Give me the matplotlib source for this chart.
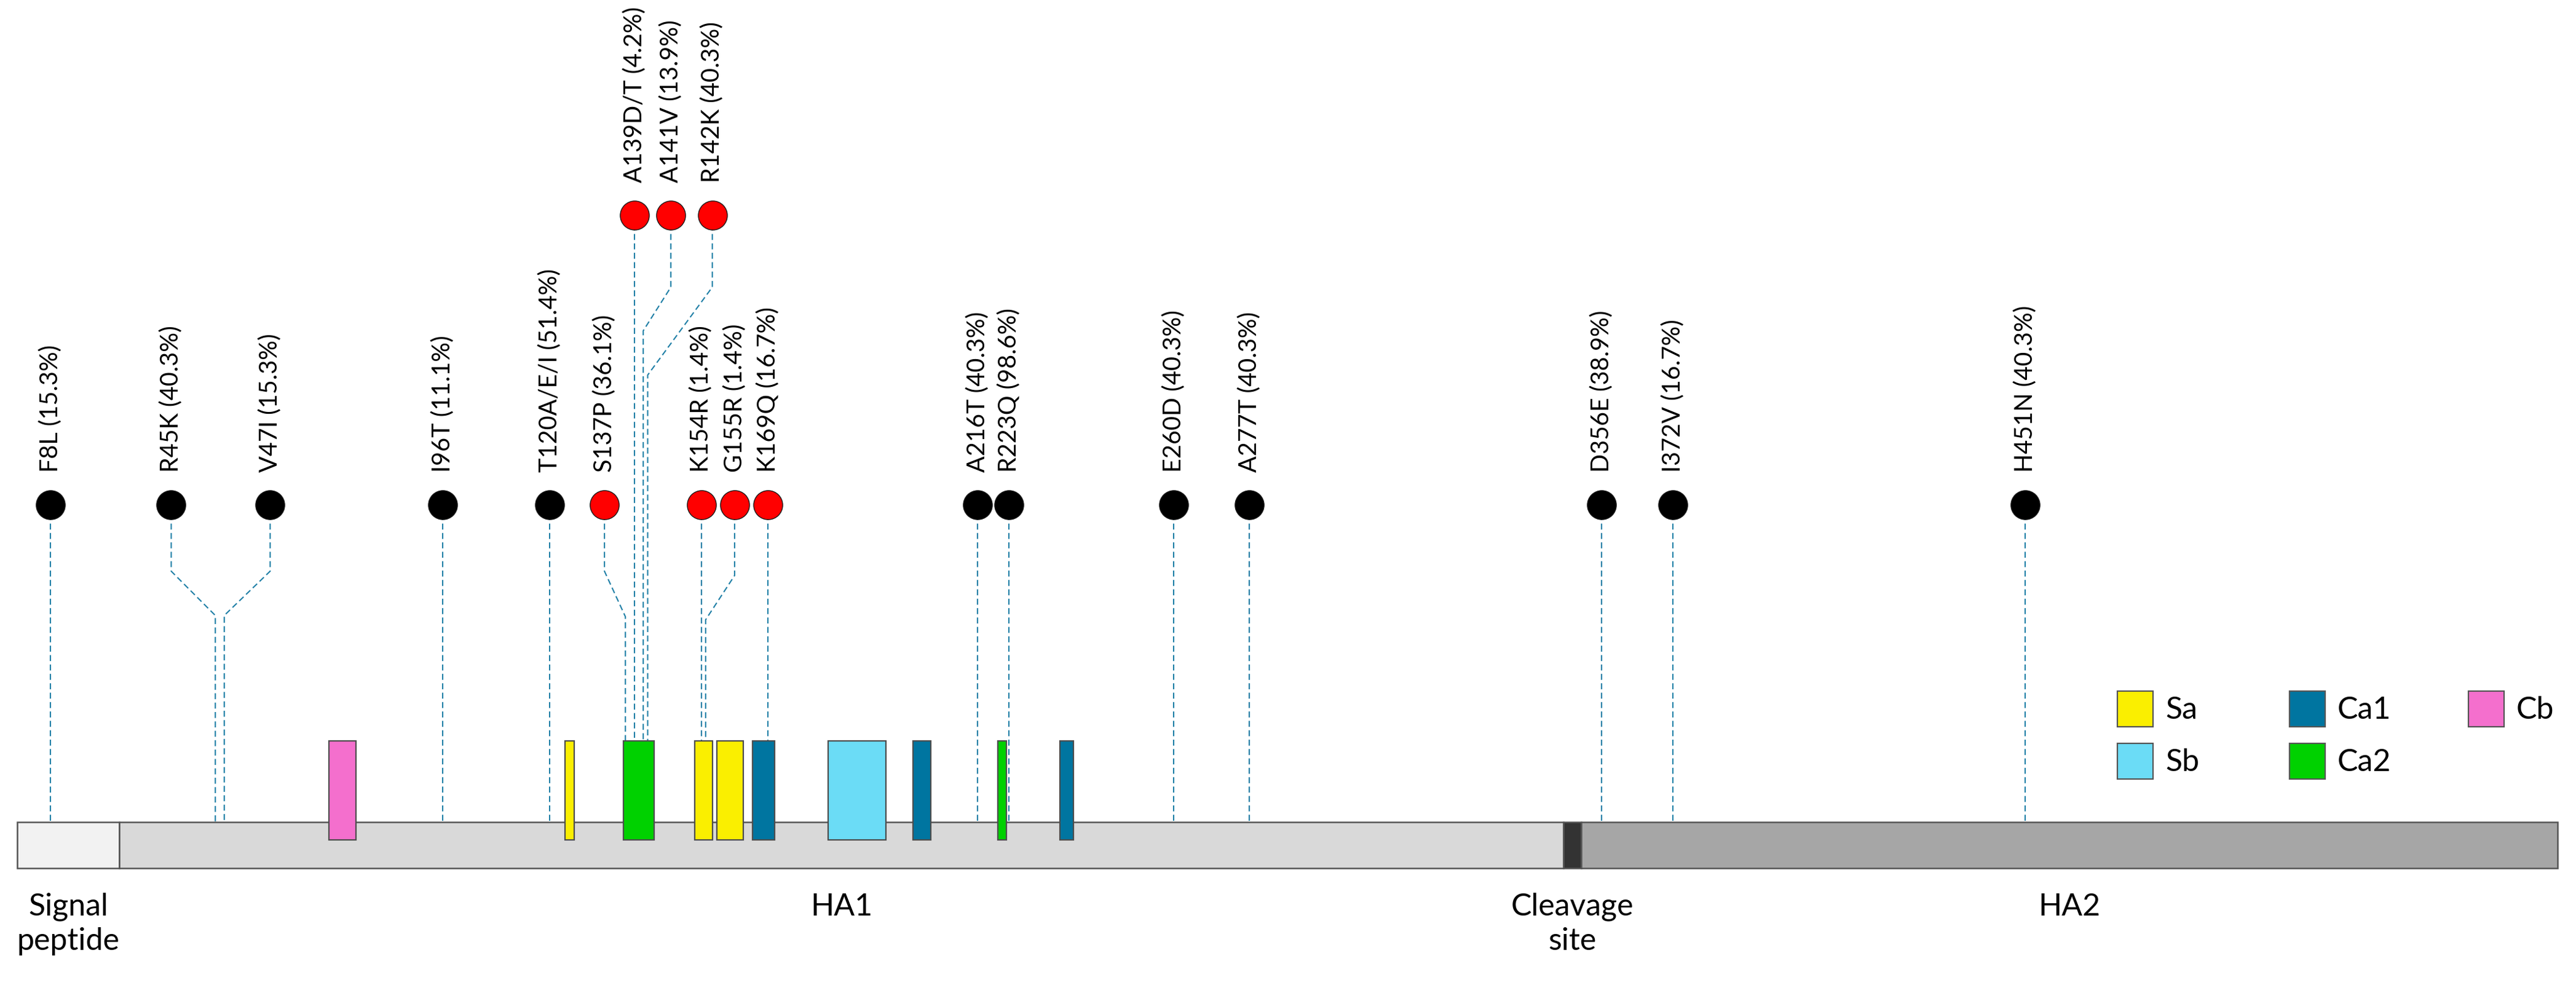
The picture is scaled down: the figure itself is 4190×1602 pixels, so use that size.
import matplotlib
matplotlib.use("Agg")
import matplotlib.pyplot as plt
from matplotlib.patches import Rectangle

# mutation data (H1 numbering, frequency in brackets)
mut_labels = ['F8L (15.3%)', 'R45K (40.3%)', 'V47I (15.3%)', 'I96T (11.1%)',
              'T120A/E/I (51.4%)', 'S137P (36.1%)', 'A139D/T (4.2%)', 'A141V (13.9%)',
              'R142K (40.3%)', 'K154R (1.4%)', 'G155R (1.4%)', 'K169Q (16.7%)',
              'A216T (40.3%)', 'R223Q (98.6%)', 'E260D (40.3%)', 'A277T (40.3%)',
              'D356E (38.9%)', 'I372V (16.7%)', 'H451N (40.3%)']
mut_pos = [8, 45, 47, 96, 120, 137, 139, 141, 142, 154, 155, 169,
           216, 223, 260, 277, 356, 372, 451]
in_epitope = [False, False, False, False, False, True, True, True, True, True, True, True,
              False, False, False, False, False, False, False]

# protein domains (start, end residue)
domain_names = ['Signal\npeptide', 'HA1', 'Cleavage\nsite', 'HA2']
domain_start = [1, 24, 348, 352]
domain_end = [23, 347, 351, 570]
domain_colors = ['#f2f2f2', '#d9d9d9', '#333333', '#a6a6a6']

# antigenic sites
site_names = ['Cb', 'Sa', 'Ca2', 'Sa', 'Sa', 'Ca1', 'Sb', 'Ca1', 'Ca2', 'Ca1']
site_start = [71, 124, 137, 153, 158, 166, 183, 202, 221, 235]
site_end = [76, 125, 143, 156, 163, 170, 195, 205, 222, 237]
site_colors = {'Sa': '#faef00', 'Sb': '#6bdcf6', 'Ca1': '#0075a0',
               'Ca2': '#00d100', 'Cb': '#f46fcd'}
legend_order = ['Sa', 'Sb', 'Ca1', 'Ca2', 'Cb']

# layout (pixels from top) -----------------------------------------
W, H = 4190, 1602
bar_top, bar_bot = 1337, 1412
site_top, site_bot = 1205, 1366
dot_low, dot_high = 821, 350
upper_row = {'A139D/T (4.2%)', 'A141V (13.9%)', 'R142K (40.3%)'}
# label shift in residues and (bend start, bend end) for bent leader lines
shift = {'R45K': -9.9, 'V47I': 10.3, 'S137P': -4.7, 'G155R': 6.5,
         'A141V': 6.2, 'R142K': 14.5}
bend = {'R45K': (929, 1001), 'V47I': (929, 1001), 'S137P': (929, 1003),
        'G155R': (936, 1008), 'A141V': (467, 538), 'R142K': (467, 610)}

plt.rcParams['font.family'] = ['Lato', 'DejaVu Sans']
plt.rcParams['lines.scale_dashes'] = False

fig = plt.figure(figsize=(W / 100, H / 100), dpi=100)
ax = fig.add_axes([0, 0, 1, 1])
# x in residues, y in pixels
ax.set_xlim(-24 / 7.25, (W - 24) / 7.25)
ax.set_ylim(H, 0)
ax.axis('off')

line_col = '#1f7fa6'

for lab, pos, red in zip(mut_labels, mut_pos, in_epitope):
    key = lab.split()[0]
    x_dot = pos + shift.get(key, 0)
    y_dot = dot_high if lab in upper_row else dot_low
    if key in bend:
        b1, b2 = bend[key]
        xs = [x_dot, x_dot, pos, pos]
        ys = [y_dot, b1, b2, bar_top]
    else:
        xs = [x_dot, pos]
        ys = [y_dot, bar_top]
    ax.plot(xs, ys, color=line_col, lw=1.5, dashes=(7, 4), zorder=1)
    ax.plot(x_dot, y_dot, 'o', ms=34, mfc='#ff0000' if red else 'black',
            mec='#1a1a1a', mew=1, zorder=5)
    ax.text(x_dot, y_dot - 53, lab, rotation=90, ha='center', va='bottom',
            fontsize=28.5, color='black', zorder=6)

# domain bar
for name, s, e, c in zip(domain_names, domain_start, domain_end, domain_colors):
    ax.add_patch(Rectangle((s - 0.5, bar_top), e - s + 1, bar_bot - bar_top,
                           facecolor=c, edgecolor='#555555', lw=1.8, zorder=2))
    ax.text((s + e) / 2, 1452, name, ha='center', va='top', fontsize=36,
            linespacing=1.25, color='black')

# antigenic site boxes
for name, s, e in zip(site_names, site_start, site_end):
    ax.add_patch(Rectangle((s - 0.5, site_top), e - s + 1, site_bot - site_top,
                           facecolor=site_colors[name], edgecolor='#4d4d4d',
                           lw=1.6, zorder=3))

# legend drawn in figure pixels
leg_pos = {'Sa': (3444, 1124), 'Sb': (3444, 1209), 'Ca1': (3724, 1124),
           'Ca2': (3724, 1209), 'Cb': (4015, 1124)}
for name in legend_order:
    px, py = leg_pos[name]
    fig.add_artist(Rectangle((px / W, 1 - (py + 58) / H), 58 / W, 58 / H,
                             transform=fig.transFigure,
                             facecolor=site_colors[name], edgecolor='#555555', lw=1.6))
    fig.text((px + 78) / W, 1 - (py + 31) / H, name, ha='left', va='center',
             fontsize=36, color='black')

fig.savefig('out.png', dpi=100, facecolor='white')
